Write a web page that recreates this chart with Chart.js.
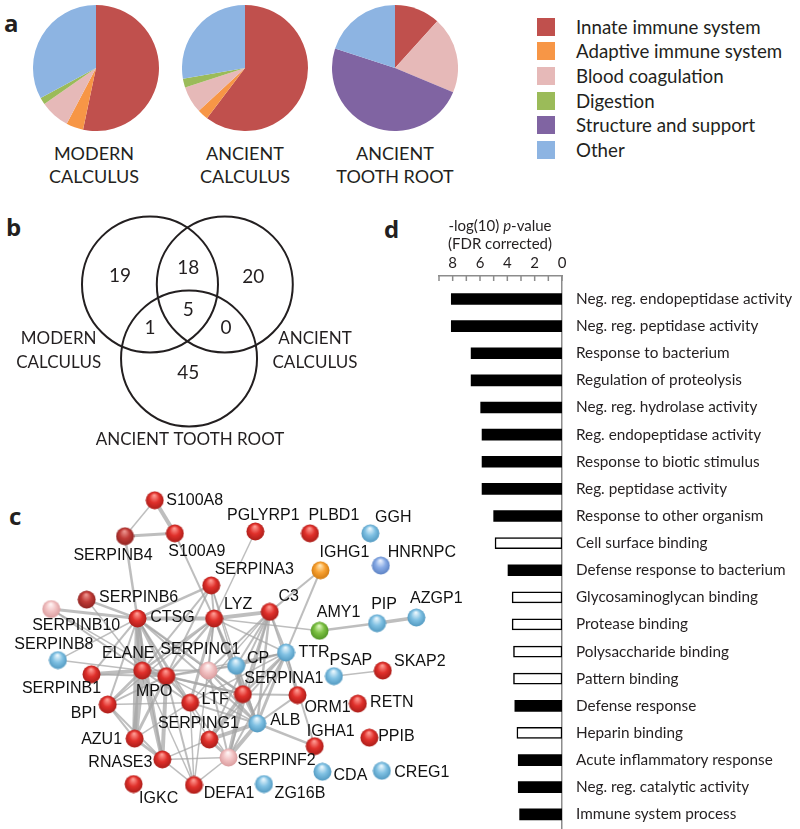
<!DOCTYPE html>
<html>
<head>
<meta charset="utf-8">
<title>Proteome figure</title>
<script src="https://cdn.jsdelivr.net/npm/chart.js@4.4.1/dist/chart.umd.min.js"></script>
<style>
  html, body { margin:0; padding:0; background:#ffffff; }
  body { position:relative; width:800px; height:829px; overflow:hidden; font-family: Lato, "Open Sans", sans-serif; color:#231f20; }
  canvas { position:absolute; display:block; }
  .panel-letter { position:absolute; font-family:"Open Sans", Lato, sans-serif; font-weight:700; font-size:24px; line-height:24px; }
  .pie-caption { position:absolute; width:160px; text-align:center; font-size:18px; line-height:23px; white-space:nowrap; }
  .legend-row { position:absolute; left:537px; height:24px; width:260px; }
  .legend-box { position:absolute; left:0; top:3px; width:18px; height:18px; }
  .legend-text { position:absolute; left:39px; top:0; font-size:18.7px; line-height:24px; white-space:nowrap; }
  .d-title { position:absolute; left:420px; width:160px; top:216px; text-align:center; font-size:15px; line-height:18px; white-space:nowrap; }
</style>
</head>
<body>
<div class="panel-letter" style="left:4px;top:11px">a</div>
<div class="panel-letter" style="left:6px;top:215px">b</div>
<div class="panel-letter" style="left:9px;top:504px">c</div>
<div class="panel-letter" style="left:384px;top:217px">d</div>

<canvas id="pie0" width="126" height="126" style="left:33px;top:5px"></canvas>
<canvas id="pie1" width="126" height="126" style="left:182px;top:5px"></canvas>
<canvas id="pie2" width="126" height="126" style="left:332px;top:5px"></canvas>
<div id="captions"></div>
<div id="legend"></div>

<canvas id="venn" width="385" height="250" style="left:0px;top:200px"></canvas>
<canvas id="goChart" width="400" height="629" style="left:400px;top:200px"></canvas>
<div class="d-title">-log(10) <i>p</i>-value<br>(FDR corrected)</div>
<canvas id="network" width="480" height="369" style="left:0px;top:460px"></canvas>

<script>
// ---------------- DATA ----------------
// Panel a: functional categories (% of proteins)
const pieCategories = ['Innate immune system', 'Adaptive immune system', 'Blood coagulation', 'Digestion', 'Structure and support', 'Other'];
const modernCalculus   = [53.3, 4.4, 7.6, 1.8, 0, 32.9];
const ancientCalculus  = [60.3, 2.8, 6.9, 2.3, 0, 27.7];
const ancientToothRoot = [11.7, 0, 19.6, 0, 48.7, 20.0];
const pieTitles = [['MODERN', 'CALCULUS'], ['ANCIENT', 'CALCULUS'], ['ANCIENT', 'TOOTH ROOT']];

// Panel b: Venn counts
const vennSets = [['MODERN', 'CALCULUS'], ['ANCIENT', 'CALCULUS'], ['ANCIENT TOOTH ROOT']];
const vennCounts = [19, 18, 20, 5, 1, 0, 45];

// Panel c: protein network
const nodeNames = ['S100A8','SERPINB4','S100A9','PGLYRP1','PLBD1','GGH','IGHG1','HNRNPC','SERPINA3','SERPINB6',
  'SERPINB10','CTSG','LYZ','C3','AMY1','PIP','AZGP1','TTR','SERPINB8','ELANE',
  'SERPINC1','CP','PSAP','SKAP2','SERPINB1','MPO','SERPINA1','LTF','ORM1','RETN',
  'BPI','ALB','SERPING1','IGHA1','PPIB','AZU1','RNASE3','SERPINF2','CDA','CREG1',
  'IGKC','DEFA1','ZG16B'];
const nodeX = [151,120,172,256,313,376,324,387,210,80, 43,133,213,271,323,383,424,288,50,138, 207,236,338,389,85,163,243,188,300,363, 102,258,208,318,375,130,159,228,326,388, 129,192,265];
const nodeY = [32,70,67,65,67,67,106,101,122,137, 147,157,157,150,170,162,156,193,201,212, 212,207,218,212,216,218,237,246,238,247, 248,268,285,292,283,284,306,304,319,318, 332,333,332];
const nodeGroup = ['innate','innateDark','innate','innate','innate','other','adaptive','otherAlt','innate','innateDark',
  'coag','innate','innate','innate','digestion','other','other','other','other','innate',
  'coag','other','other','innate','innate','innate','innate','innate','innate','innate',
  'innate','other','innate','innate','innate','innate','innate','coag','other','other',
  'innate','innate','other'];
const networkEdges = [
  ['S100A8','S100A9',4],['S100A8','SERPINB4',1.5],['SERPINB4','S100A9',3],['SERPINB4','CTSG',2.5],['S100A9','LYZ',2],
  ['PGLYRP1','LYZ',1.5],['SERPINA3','CTSG',2.5],['SERPINA3','ELANE',2],['SERPINA3','LYZ',2],['SERPINA3','MPO',2],
  ['SERPINA3','SERPINA1',1.5],['SERPINA3','ALB',1.5],['IGHG1','C3',2],['IGHG1','TTR',2],['CTSG','LYZ',4],
  ['LYZ','C3',4],['CTSG','SERPINB6',2.5],['CTSG','SERPINB10',3],['SERPINB10','ELANE',2],['SERPINB10','MPO',1.5],
  ['SERPINB6','ELANE',1.5],['CTSG','SERPINB8',1.5],['SERPINB8','ELANE',1.5],['CTSG','ELANE',6],['CTSG','MPO',3],
  ['CTSG','AZU1',5],['CTSG','BPI',2],['CTSG','SERPINB1',2],['CTSG','LTF',2],['CTSG','SERPINA1',2.5],
  ['CTSG','ALB',2],['CTSG','SERPINC1',1.5],['CTSG','RNASE3',2.5],['CTSG','SERPING1',1.5],['SERPINB1','ELANE',4],
  ['SERPINB1','MPO',2],['ELANE','MPO',4],['ELANE','AZU1',6],['ELANE','RNASE3',4],['ELANE','BPI',2.5],
  ['ELANE','LTF',2],['ELANE','SERPINA1',2.5],['ELANE','SERPINC1',2],['ELANE','LYZ',2.5],['ELANE','DEFA1',1.5],
  ['MPO','AZU1',3],['MPO','RNASE3',4],['MPO','LTF',2.5],['MPO','DEFA1',2],['MPO','LYZ',2.5],
  ['MPO','CP',2],['MPO','ALB',1.5],['MPO','SERPINA1',2],['MPO','BPI',2],['LYZ','LTF',3],
  ['LYZ','SERPINA1',2],['LYZ','ALB',2],['LYZ','TTR',1.5],['LYZ','BPI',1.5],['LYZ','DEFA1',1.5],
  ['LYZ','CP',2],['LYZ','AMY1',1.5],['LYZ','SERPINC1',2],['C3','TTR',2.5],['C3','ALB',2.5],
  ['C3','SERPINA1',2.5],['C3','CP',2],['C3','SERPINC1',2],['C3','SERPING1',2],['C3','ORM1',1.5],
  ['C3','SERPINF2',2],['C3','LTF',1.5],['AMY1','PIP',2.5],['PIP','AZGP1',3.5],['PSAP','SKAP2',1.5],
  ['TTR','ALB',3],['TTR','SERPINA1',2.5],['TTR','ORM1',2],['TTR','SERPINF2',2],['TTR','SERPING1',2],
  ['TTR','CP',2],['TTR','IGHA1',2],['TTR','LTF',1.5],['TTR','SERPINC1',1.5],['TTR','MPO',1.5],
  ['ALB','ORM1',2],['ALB','IGHA1',2.5],['ALB','SERPINA1',3],['ALB','SERPINF2',4],['ALB','SERPING1',4],
  ['ALB','CP',2.5],['ALB','SERPINC1',2],['ALB','LTF',2],['SERPINA1','ORM1',2],['SERPINA1','SERPINF2',4],
  ['SERPINA1','SERPING1',3.5],['SERPINA1','SERPINC1',2],['SERPINA1','CP',2],['SERPING1','SERPINF2',3],['SERPING1','RNASE3',1.5],
  ['SERPINC1','SERPINF2',2],['RNASE3','DEFA1',1.5],['RNASE3','SERPINF2',1.5],['RNASE3','AZU1',3],['DEFA1','LTF',1.5],
  ['DEFA1','SERPINF2',1.5],['BPI','AZU1',2],['BPI','RNASE3',2],['BPI','LTF',1.5],['AZU1','LTF',1.5],['LTF','SERPINF2',1.5]
];

// Panel d: GO enrichment
const goTerms = ['Neg. reg. endopeptidase activity','Neg. reg. peptidase activity','Response to bacterium','Regulation of proteolysis',
  'Neg. reg. hydrolase activity','Reg. endopeptidase activity','Response to biotic stimulus','Reg. peptidase activity',
  'Response to other organism','Cell surface binding','Defense response to bacterium','Glycosaminoglycan binding',
  'Protease binding','Polysaccharide binding','Pattern binding','Defense response','Heparin binding',
  'Acute inflammatory response','Neg. reg. catalytic activity','Immune system process'];
const goValues = [8.1, 8.1, 6.65, 6.65, 5.95, 5.85, 5.85, 5.85, 5.0, 4.9, 3.95, 3.65, 3.65, 3.55, 3.55, 3.45, 3.3, 3.2, 3.2, 3.1];
const goTermType = ['process','process','process','process','process','process','process','process','process','function',
  'process','function','function','function','function','process','function','process','process','process'];

// ---------------- LAYOUT / STYLE ----------------
const INK = '#231f20';
const pieColors = ['#c0504d', '#f79646', '#e6b9b8', '#9bbb59', '#8064a2', '#8db4e2'];
const pieCentersX = [94, 245, 395];
const vennLayout = { cx: [0, 1.10, 0.574], cy: [0, 0, -1.088], radius: 1,
  countX: [-0.44, 0.564, 1.52, 0.564, 0, 1.118, 0.564], countY: [0.125, 0.238, 0.115, -0.375, -0.635, -0.644, -1.297],
  nameX: [-1.343, 2.426, 0.588], nameY: [-0.97, -0.97, -2.276] };
const labelOffsets = {
  S100A8:[40,0], SERPINB4:[-12,19], S100A9:[22,18], PGLYRP1:[8,-16], PLBD1:[24,-18], GGH:[23,-16], IGHG1:[24,-18],
  HNRNPC:[41,-13], SERPINA3:[43,-16], SERPINB6:[52,-2], SERPINB10:[25,17], CTSG:[35,-1], LYZ:[24,-14], C3:[19,-15],
  AMY1:[19,-18], PIP:[7,-19], AZGP1:[20,-19], TTR:[28,0], SERPINB8:[-4,-16], ELANE:[-14,-17], SERPINC1:[-8,-21],
  CP:[22,-7], PSAP:[17,-16], SKAP2:[37,-9], SERPINB1:[-30,14], MPO:[-12,15], SERPINA1:[41,-16], LTF:[25,-3],
  ORM1:[30,12], RETN:[34,-1], BPI:[-24,9], ALB:[28,-3], SERPING1:[-11,-16], IGHA1:[16,-15], PPIB:[27,-1],
  AZU1:[-33,1], RNASE3:[-42,3], SERPINF2:[48,3], CDA:[28,4], CREG1:[40,2], IGKC:[25,15], DEFA1:[35,9], ZG16B:[36,10]
};
const nodeColors = {
  innate:['#ff9a92','#e0302b','#a81c18'], innateDark:['#ec948e','#c03a36','#8c2220'],
  coag:['#fff4f4','#f2c2c3','#d99a9c'], other:['#eaf7fd','#80c1e3','#4f97bf'],
  otherAlt:['#eaf0fd','#88abe6','#5a80c2'], adaptive:['#ffe6b4','#f8a132','#d07a10'],
  digestion:['#def7c0','#7cc142','#4f9222']
};

Chart.defaults.font.family = 'Lato, "Open Sans", sans-serif';
Chart.defaults.color = INK;
const noPlugins = { legend: { display: false }, tooltip: { enabled: false } };

// ---------------- PANEL A ----------------
[modernCalculus, ancientCalculus, ancientToothRoot].forEach((vals, k) => {
  new Chart(document.getElementById('pie' + k), {
    type: 'pie',
    data: { labels: pieCategories, datasets: [{ data: vals, backgroundColor: pieColors, borderWidth: 0 }] },
    options: { responsive: false, animation: false, events: [], layout: { padding: 0 }, plugins: noPlugins }
  });
});
const capBox = document.getElementById('captions');
pieTitles.forEach((lines, k) => {
  const d = document.createElement('div');
  d.className = 'pie-caption';
  d.style.left = (pieCentersX[k] - 80) + 'px';
  d.style.top = '141.5px';
  d.innerHTML = lines.join('<br>');
  capBox.appendChild(d);
});
const legBox = document.getElementById('legend');
pieCategories.forEach((name, i) => {
  const row = document.createElement('div');
  row.className = 'legend-row';
  row.style.top = (14.5 + i * 24.7) + 'px';
  row.innerHTML = '<div class="legend-box" style="background:' + pieColors[i] + '"></div><div class="legend-text">' + name + '</div>';
  legBox.appendChild(row);
});

// ---------------- PANEL B ----------------
const vennTextPlugin = {
  id: 'vennText',
  afterDatasetsDraw(chart) {
    const { ctx, scales: { x, y } } = chart;
    ctx.save();
    ctx.fillStyle = INK;
    ctx.textAlign = 'center';
    ctx.textBaseline = 'middle';
    ctx.font = '19px Lato, "Open Sans", sans-serif';
    vennCounts.forEach((c, i) => {
      ctx.fillText(String(c), x.getPixelForValue(vennLayout.countX[i]), y.getPixelForValue(vennLayout.countY[i]));
    });
    ctx.font = '17px Lato, "Open Sans", sans-serif';
    vennSets.forEach((lines, i) => {
      const px = x.getPixelForValue(vennLayout.nameX[i]);
      const py = y.getPixelForValue(vennLayout.nameY[i]);
      const lh = 24;
      lines.forEach((t, j) => ctx.fillText(t, px, py + (j - (lines.length - 1) / 2) * lh));
    });
    ctx.restore();
  }
};
new Chart(document.getElementById('venn'), {
  type: 'scatter',
  data: { datasets: [{
    data: vennLayout.cx.map((cx, i) => ({ x: cx, y: vennLayout.cy[i] })),
    pointRadius: (c) => { const s = c.chart.scales.x; return s ? Math.abs(s.getPixelForValue(vennLayout.radius) - s.getPixelForValue(0)) : 1; },
    pointBackgroundColor: 'rgba(0,0,0,0)', pointBorderColor: INK, pointBorderWidth: 2
  }] },
  options: {
    responsive: false, animation: false, events: [], layout: { padding: 0 }, plugins: noPlugins,
    scales: { x: { display: false, min: -2.206, max: 3.456 }, y: { display: false, min: -2.434, max: 1.2426 } }
  },
  plugins: [vennTextPlugin]
});

// ---------------- PANEL C ----------------
function sphere(cols) {
  const c = document.createElement('canvas');
  c.width = 19; c.height = 19;
  const g = c.getContext('2d');
  const grad = g.createRadialGradient(9, 4.5, 0.5, 9.5, 9.5, 9.5);
  grad.addColorStop(0, cols[0]);
  grad.addColorStop(0.5, cols[1]);
  grad.addColorStop(1, cols[2]);
  g.fillStyle = grad;
  g.beginPath(); g.arc(9.5, 9.5, 9, 0, Math.PI * 2); g.fill();
  return c;
}
const sphereImg = {};
Object.keys(nodeColors).forEach(k => sphereImg[k] = sphere(nodeColors[k]));
const nodeIndex = {};
nodeNames.forEach((n, i) => nodeIndex[n] = i);
const edgeDatasets = networkEdges.map(([a, b, w]) => ({
  data: [{ x: nodeX[nodeIndex[a]], y: nodeY[nodeIndex[a]] }, { x: nodeX[nodeIndex[b]], y: nodeY[nodeIndex[b]] }],
  showLine: true, borderColor: 'rgba(165,165,165,0.72)', borderWidth: w, pointRadius: 0, order: 2
}));
const nodeDataset = {
  data: nodeNames.map((n, i) => ({ x: nodeX[i], y: nodeY[i] })),
  pointStyle: nodeGroup.map(g => sphereImg[g]), pointRadius: 9, order: 1
};
const nodeLabelPlugin = {
  id: 'nodeLabels',
  afterDatasetsDraw(chart) {
    const { ctx, scales: { x, y } } = chart;
    ctx.save();
    ctx.fillStyle = '#111';
    ctx.font = '16px "Liberation Sans", Arial, sans-serif';
    ctx.textAlign = 'center';
    ctx.textBaseline = 'middle';
    nodeNames.forEach((n, i) => {
      const off = labelOffsets[n] || [0, -15];
      ctx.fillText(n, x.getPixelForValue(nodeX[i]) + off[0], y.getPixelForValue(nodeY[i]) + off[1]);
    });
    ctx.restore();
  }
};
new Chart(document.getElementById('network'), {
  type: 'scatter',
  data: { datasets: [nodeDataset].concat(edgeDatasets) },
  options: {
    responsive: false, animation: false, events: [], layout: { padding: 0 }, plugins: noPlugins,
    scales: { x: { display: false, min: 0, max: 480 }, y: { display: false, min: 0, max: 369, reverse: true } }
  },
  plugins: [nodeLabelPlugin]
});

// ---------------- PANEL D ----------------
const AXIS_GRAY = '#8c8c8c';
const downTicksPlugin = {
  id: 'downTicks',
  afterDraw(chart) {
    const { ctx, chartArea, scales: { x } } = chart;
    ctx.save();
    ctx.strokeStyle = AXIS_GRAY;
    ctx.lineWidth = 1.5;
    x.ticks.forEach(t => {
      const px = x.getPixelForValue(t.value);
      ctx.beginPath(); ctx.moveTo(px, chartArea.top); ctx.lineTo(px, chartArea.top + 5); ctx.stroke();
    });
    ctx.restore();
  }
};
new Chart(document.getElementById('goChart'), {
  type: 'bar',
  data: { datasets: [{
    data: goValues.map((v, i) => ({ x: v, y: i })),
    backgroundColor: goTermType.map(t => t === 'process' ? '#000000' : '#ffffff'),
    borderColor: '#000000',
    borderWidth: goTermType.map(t => t === 'process' ? 0 : 1.5),
    borderSkipped: false,
    barThickness: 11
  }] },
  options: {
    indexAxis: 'y', responsive: false, animation: false, events: [],
    layout: { padding: { left: 39, top: 0, right: 0, bottom: 0 } },
    plugins: noPlugins,
    scales: {
      x: {
        type: 'linear', position: 'top', reverse: true, min: 0, max: 9, offset: false,
        afterBuildTicks: (s) => { s.ticks = [0,1,2,3,4,5,6,7,8,9].map(v => ({ value: v })); },
        afterFit: (s) => { s.height = 76; s.paddingLeft = 0; s.paddingRight = 0; },
        ticks: { autoSkip: false, maxRotation: 0, padding: 4, color: INK, font: { size: 15 },
          callback: (v) => (v % 2 === 0 && v <= 8) ? String(v) : '' },
        grid: { display: false, drawTicks: false, offset: false },
        border: { display: true, color: AXIS_GRAY, width: 1.5 }
      },
      y: {
        type: 'linear', position: 'right', reverse: true, min: -0.848, max: 19.542, offset: false,
        afterBuildTicks: (s) => { s.ticks = goTerms.map((_, i) => ({ value: i })); },
        afterFit: (s) => { s.width = 238; s.paddingTop = 0; s.paddingBottom = 0; },
        ticks: { autoSkip: false, padding: 14, color: INK, font: { size: 15.3 },
          callback: (v) => goTerms[v] !== undefined ? goTerms[v] : '' },
        grid: { display: false, drawTicks: false, offset: false },
        border: { display: true, color: AXIS_GRAY, width: 1.5 }
      }
    }
  },
  plugins: [downTicksPlugin]
});
</script>
</body>
</html>
